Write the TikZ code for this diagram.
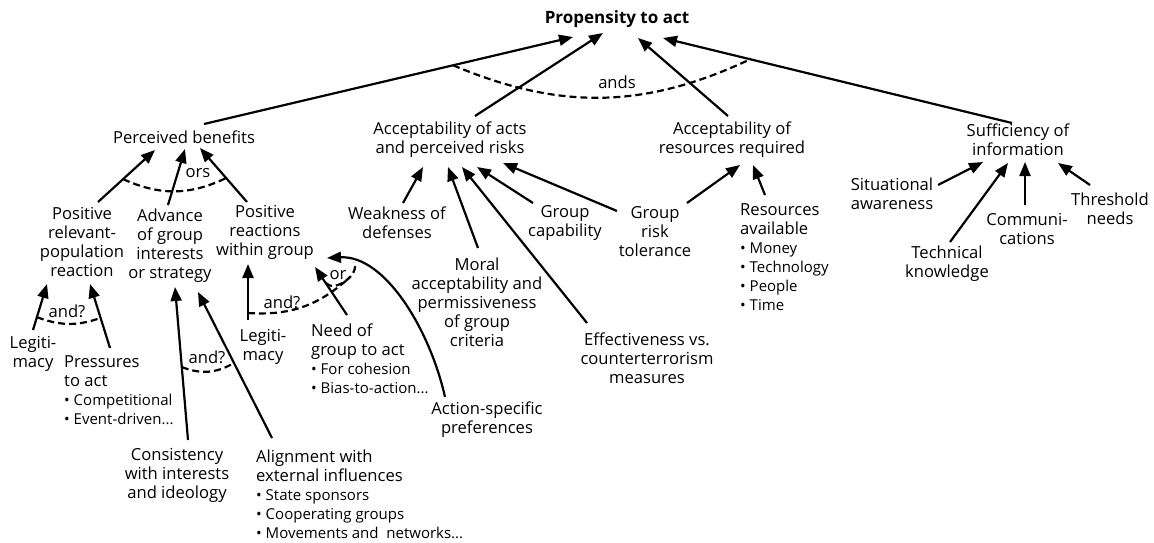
\documentclass[tikz,border=0pt]{standalone}
\usepackage{fontspec}
\setmainfont{Open Sans}
\usetikzlibrary{arrows.meta,calc}
\newcommand{\bulitem}[1]{{\fontsize{15}{19}\selectfont\textbullet\ #1}}

\begin{document}
\begin{tikzpicture}[x=1pt,y=-1pt,
      lbl/.style={inner sep=2pt,align=center,font=\fontsize{16.6}{19}\selectfont},
      lbll/.style={lbl,align=left,anchor=north west},
      arr/.style={-{Triangle[length=14pt,width=11pt]},line width=2.2pt},
      joinarc/.style={line width=2.2pt,dash pattern=on 7pt off 4pt},
    ]
      \useasboundingbox (0,0) rectangle (1154,542);

      % Top and its four factors
      \node[lbl,font=\fontsize{17}{19}\selectfont\bfseries] (prop) at (617,19) {Propensity to act};
      \node[lbl] (perc) at (184,137) {Perceived benefits};
      \node[lbl] (accacts) at (450,140) {Acceptability of acts\\and perceived risks};
      \node[lbl] (accres) at (732,140) {Acceptability of\\resources required};
      \node[lbl] (suff) at (1018,140) {Sufficiency of\\information};

      % Benefits branch
      \node[lbl] (posrel) at (82,241.5) {Positive\\relevant-\\population\\reaction};
      \node[lbl] (adv) at (170,245.5) {Advance\\of group\\interests\\or strategy};
      \node[lbl] (posgrp) at (265,232.5) {Positive\\reactions\\within group};
      \node[lbl] (legA) at (33,354) {Legiti-\\macy};
      \node[lbll] (press) at (62,353) {Pressures\\to act\\\bulitem{Competitional}\\\bulitem{Event-driven...}};
      \node[lbl] (cons) at (177,475) {Consistency\\with interests\\and ideology};
      \node[lbll] (extinf) at (254,448) {Alignment with\\external influences\\\bulitem{State sponsors}\\\bulitem{Cooperating groups}\\\bulitem{Movements and~~networks...}};
      \node[lbl] (legB) at (263,347) {Legiti-\\macy};
      \node[lbll] (need) at (309,322) {Need of\\group to act\\\bulitem{For cohesion}\\\bulitem{Bias-to-action...}};
      \node[lbl] (actspec) at (487,419.5) {Action-specific\\preferences};

      % Acceptability branches
      \node[lbl] (weak) at (397,223) {Weakness of\\defenses};
      \node[lbl] (moral) at (477,302) {Moral\\acceptability and\\permissiveness\\of group\\criteria};
      \node[lbl] (grpcap) at (565,223) {Group\\capability};
      \node[lbl] (grprisk) at (655,232) {Group\\risk\\tolerance};
      \node[lbl] (effect) at (647,358) {Effectiveness vs.\\counterterrorism\\measures};
      \node[lbll] (resav) at (738,201) {Resources\\available\\\bulitem{Money}\\\bulitem{Technology}\\\bulitem{People}\\\bulitem{Time}};

      % Information branch
      \node[lbl] (sit) at (892,194) {Situational\\awareness};
      \node[lbl] (tech) at (947,264) {Technical\\knowledge};
      \node[lbl] (comm) at (1027,228.5) {Communi-\\cations};
      \node[lbl] (thresh) at (1110,209) {Threshold\\needs};

      % Arrows to the top
      \draw[arr] ($(perc)+(20,-13)$) -- coordinate[pos=0.675] (andsL) ($(prop)+(-44,18)$);
      \draw[arr] ($(accacts)+(25,-24)$) -- ($(prop)+(-14,14)$);
      \draw[arr] ($(accres)+(-4,-24)$) -- ($(prop)+(21,19)$);
      \draw[arr] ($(suff)+(-6,-17)$) -- coordinate[pos=0.75] (andsR) ($(prop)+(46,19)$);
      \draw[joinarc] (andsL) to[bend right=24] (andsR);
      \node[lbl] (ands) at (617,82) {ands};

      \draw[arr] ($(posrel)+(16,-39.5)$) -- coordinate[pos=0.44] (orsL) ($(perc)+(-29,13)$);
      \draw[arr] ($(adv)+(-2,-40.5)$) -- ($(perc)+(1,12)$);
      \draw[arr] ($(posgrp)+(-18,-30.5)$) -- coordinate[pos=0.444] (orsR) ($(perc)+(16,11)$);
      \draw[joinarc] (orsL) to[bend right=25] (orsR);
      \node[lbl] (ors) at (198,173) {ors};

      \draw[arr] ($(legA)+(0,-24)$) -- coordinate[pos=0.28] (andAL) ($(posrel)+(-35,42.5)$);
      \draw[arr] ($(press.north west)+(48,-5)$) -- coordinate[pos=0.47] (andAR) ($(posrel)+(8,42.5)$);
      \draw[joinarc] (andAL) to[bend right=20] (andAR);
      \node[lbl] (andA) at (67,311) {and?};

      \draw[arr] ($(cons)+(11,-35)$) -- coordinate[pos=0.477] (andBL) ($(adv)+(5,41.5)$);
      \draw[arr] ($(extinf.north west)+(18,-10)$) -- coordinate[pos=0.514] (andBR) ($(adv)+(28,46.5)$);
      \draw[joinarc] (andBL) to[bend right=26] (andBR);
      \node[lbl] (andB) at (207,357) {and?};

      \draw[arr] ($(legB)+(-15,-27)$) -- coordinate[pos=0.125] (andCL) ($(posgrp)+(-17,31.5)$);
      \draw[arr] ($(need.north west)+(38,-7)$) -- coordinate[pos=0.667] (orL) ($(posgrp)+(50,34.5)$);
      \draw[arr] ($(actspec)+(-42,-22.5)$) .. controls +(-15,-67) and +(58,-3) .. coordinate[pos=0.84] (orR) ($(posgrp)+(62,25.5)$);
      \draw[joinarc] (orL) to[bend right=85] coordinate[pos=0.6] (orMid) (orR);
      \draw[joinarc] (andCL) to[bend right=23] (orMid);
      \node[lbl] (orlbl) at (338,275) {or};
      \node[lbl] (andC) at (282,302) {and?};

      \draw[arr] ($(weak)+(6,-20)$) -- ($(accacts)+(-27,27)$);
      \draw[arr] ($(moral)+(1,-54)$) -- ($(accacts)+(-2,27)$);
      \draw[arr] ($(effect)+(-60,-35)$) -- ($(accacts)+(12,27)$);
      \draw[arr] ($(grpcap)+(-32,-20)$) -- ($(accacts)+(27,27)$);
      \draw[arr] ($(grprisk)+(-38,-21)$) -- ($(accacts)+(53,23)$);
      \draw[arr] ($(grprisk)+(32,-29)$) -- ($(accres)+(8,25)$);
      \draw[arr] ($(resav.north west)+(27,-6)$) -- ($(accres)+(21,25)$);

      \draw[arr] ($(sit)+(46,-9)$) -- ($(suff)+(-35,22)$);
      \draw[arr] ($(tech)+(3,-22)$) -- ($(suff)+(-10,23)$);
      \draw[arr] ($(comm)+(-2,-23.5)$) -- ($(suff)+(7,22)$);
      \draw[arr] ($(thresh)+(-20,-24)$) -- ($(suff)+(40,23)$);
    \end{tikzpicture}
\end{document}
